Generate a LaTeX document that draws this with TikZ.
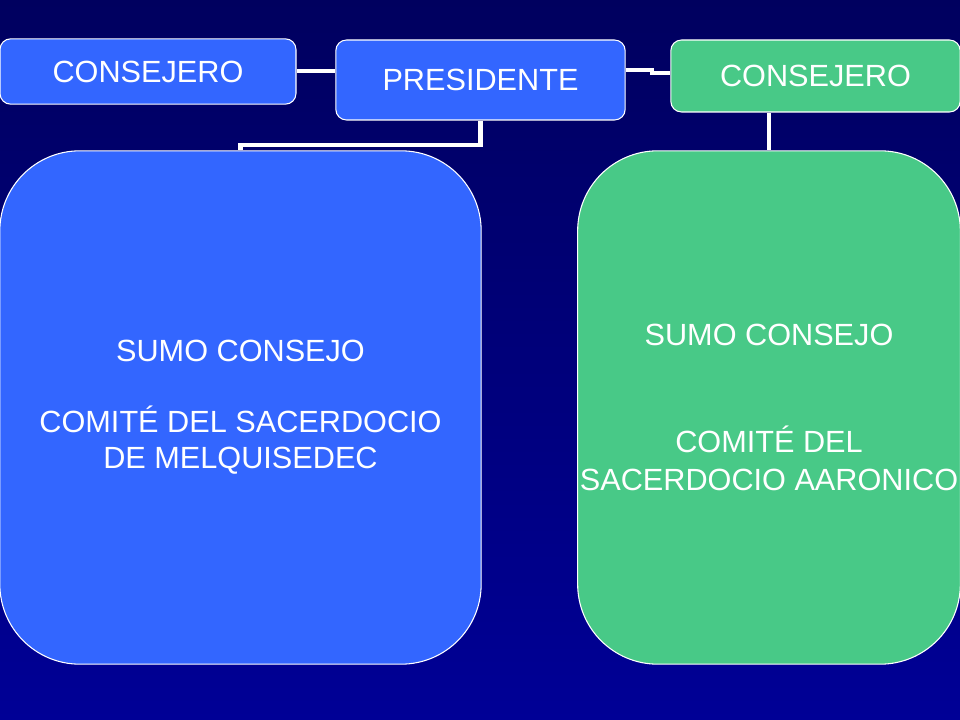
\documentclass[tikz,border=0pt]{standalone}
\usepackage{fontspec}
\setmainfont{Liberation Sans}
\usetikzlibrary{positioning}

\definecolor{navyTop}{RGB}{0,0,95}
\definecolor{navyBot}{RGB}{0,0,150}
\definecolor{cargoBlue}{RGB}{51,102,255}
\definecolor{cargoGreen}{RGB}{72,201,135}

\tikzset{
  cargo/.style={draw=white, line width=0.8pt, rounded corners=8pt,
    font=\fontsize{23}{27}\selectfont, text=white, inner sep=0pt, align=center},
  comite/.style={draw=white, line width=0.8pt, rounded corners=60pt,
    font=\fontsize{23}{27}\selectfont, text=white, inner sep=0pt, align=center},
  enlace/.style={draw=white, line width=3.5pt}
}

\begin{document}
\begin{tikzpicture}[x=0.75pt,y=-0.75pt]
      % fondo
      \shade[top color=navyTop, bottom color=navyBot] (0,0) rectangle (960,720);
      \useasboundingbox (0,0) rectangle (960,720);

      % fila superior
      \node[cargo, fill=cargoBlue, minimum width=222pt, minimum height=49pt] (consIzq) at (148,71.5) {CONSEJERO};
      \node[cargo, fill=cargoBlue, minimum width=217pt, minimum height=60pt] (presidente) at (480.5,80) {PRESIDENTE};
      \node[cargo, fill=cargoGreen, minimum width=217pt, minimum height=54pt] (consDer) at (815.5,76) {CONSEJERO};

      % comites
      \node[comite, fill=cargoBlue, minimum width=361pt, minimum height=385pt] (melquisedec) at (240.5,407.5)
        {SUMO CONSEJO\\[26pt]COMITÉ DEL SACERDOCIO\\DE MELQUISEDEC};
      \node[comite, fill=cargoGreen, minimum width=287pt, minimum height=385pt, font=\fontsize{23}{28.5}\selectfont] (aaronico) at (769,407.5)
        {SUMO CONSEJO\\[52pt]COMITÉ DEL\\SACERDOCIO AARONICO};

      % lineas
      \coordinate (codoA) at (652,70);
      \coordinate (codoB) at (652,73);
      \draw[enlace] (consIzq.east |- 0,71) -- (presidente.west |- 0,71);
      \draw[enlace] (presidente.east |- codoA) -- (codoA) -- (codoB) -- (consDer.west |- codoB);
      \draw[enlace] (presidente.south) -- (480.5,145) -| (melquisedec.north);
      \draw[enlace] (consDer.south -| aaronico.north) -- (aaronico.north);
\end{tikzpicture}
\end{document}
